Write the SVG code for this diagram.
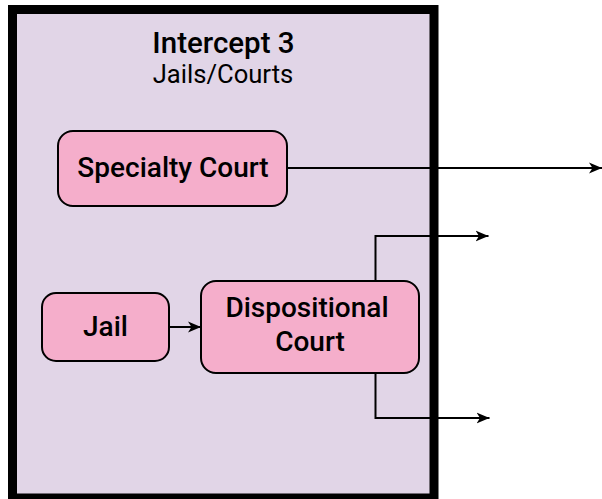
<svg xmlns="http://www.w3.org/2000/svg" width="602" height="499" viewBox="0 0 602 499">
<defs>
<style>
.node{fill:#F5AECB;stroke:#000;stroke-width:2}
.lbl{font-family:Roboto,"Liberation Sans",sans-serif;font-weight:500;font-size:28px;fill:#000;text-anchor:middle}
.edge{fill:none;stroke:#000;stroke-width:2}
</style>
<marker id="arr" markerUnits="userSpaceOnUse" markerWidth="14" markerHeight="12" refX="13" refY="6" orient="auto">
<path d="M0,0.5 L13,6 L0,11.5 L3.5,6 Z" fill="#000"/>
</marker>
</defs>
<g id="intercept3">
<rect x="12.5" y="9.5" width="421.5" height="488.5" fill="#E1D5E7" stroke="#000" stroke-width="9"/>
<text x="223.5" y="52.5" class="lbl" style="font-size:29.5px">Intercept 3</text>
<text x="223" y="83" style="font-family:Roboto,'Liberation Sans',sans-serif;font-size:25.6px;text-anchor:middle;fill:#000">Jails/Courts</text>
</g>
<g id="connectors">
<path class="edge" d="M287,168 H602" marker-end="url(#arr)"/>
<path class="edge" d="M169,327 H201" marker-end="url(#arr)"/>
<path class="edge" d="M375.5,281 V236 H488.5" marker-end="url(#arr)"/>
<path class="edge" d="M375.5,373 V418 H489.5" marker-end="url(#arr)"/>
</g>
<g id="specialty-court">
<rect class="node" x="58" y="131" width="229" height="75" rx="15"/>
<text x="173" y="176.5" class="lbl">Specialty Court</text>
</g>
<g id="jail">
<rect class="node" x="42" y="293" width="127" height="68" rx="14"/>
<text x="105.5" y="335.5" class="lbl">Jail</text>
</g>
<g id="dispositional-court">
<rect class="node" x="201" y="281" width="218" height="92" rx="15"/>
<text x="307" y="317" class="lbl">Dispositional</text>
<text x="310" y="351" class="lbl">Court</text>
</g>
</svg>
